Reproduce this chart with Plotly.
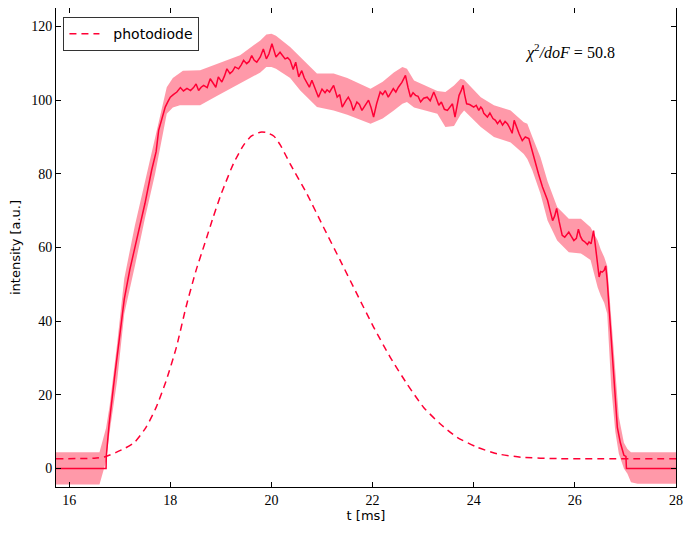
import plotly.graph_objects as go

# ---- data ----
line_t = [15.74, 16.73, 16.735, 16.79, 16.9, 17.05, 17.09, 17.2, 17.35, 17.5, 17.63, 17.72, 17.77, 17.84,
          17.9, 17.95, 18.0, 18.06, 18.13, 18.2, 18.26, 18.33, 18.4, 18.46, 18.51, 18.56, 18.61, 18.66,
          18.73, 18.79, 18.86, 18.9, 18.95, 19.02, 19.07, 19.12, 19.18, 19.23, 19.28, 19.35, 19.4, 19.45,
          19.51, 19.56, 19.61, 19.66, 19.71, 19.78, 19.84, 19.9, 19.95, 20.01, 20.05, 20.09, 20.17, 20.22,
          20.27, 20.32, 20.37, 20.43, 20.48, 20.54, 20.6, 20.65, 20.7, 20.75, 20.8, 20.86, 20.93, 21.0,
          21.06, 21.1, 21.15, 21.23, 21.3, 21.35, 21.4, 21.47, 21.52, 21.57, 21.62, 21.69, 21.74, 21.79,
          21.85, 21.92, 21.97, 22.02, 22.08, 22.15, 22.2, 22.25, 22.31, 22.36, 22.41, 22.46, 22.51, 22.58,
          22.65, 22.7, 22.75, 22.8, 22.85, 22.9, 22.95, 23.01, 23.08, 23.14, 23.21, 23.26, 23.31, 23.36,
          23.42, 23.48, 23.53, 23.58, 23.63, 23.67, 23.71, 23.75, 23.79, 23.82, 23.86, 23.92, 24.0, 24.05,
          24.1, 24.14, 24.17, 24.2, 24.27, 24.32, 24.38, 24.43, 24.47, 24.52, 24.57, 24.62, 24.67, 24.71,
          24.76, 24.8, 24.85, 24.9, 24.96, 25.02, 25.09, 25.15, 25.22, 25.28, 25.36, 25.41, 25.46, 25.51,
          25.56, 25.6, 25.64, 25.69, 25.75, 25.8, 25.84, 25.88, 25.93, 25.98, 26.03, 26.07, 26.11, 26.15,
          26.2, 26.25, 26.28, 26.32, 26.37, 26.41, 26.45, 26.48, 26.51, 26.54, 26.58, 26.61, 26.64, 26.71,
          26.78, 26.84, 26.9, 26.97, 27.01, 27.02, 28.0]
line_v = [0, 0, 3.5, 12, 25, 41, 46, 54, 63, 72, 80.9, 86, 91.8, 95.5,
          98.1, 99.5, 100.8, 101.5, 102.2, 103.4, 102.5, 103.2, 102.6, 103.4, 104.4, 102.6, 103.5, 104,
          103.4, 105.8, 104.5, 103.5, 106.3, 104.9, 106.5, 108.5, 107.2, 107.8, 109, 108.5, 109.5, 110.8,
          109.9, 110.5, 112.1, 110.8, 110.3, 111.7, 113.9, 111.2, 112.5, 115.3, 113.5, 111.7, 113, 112,
          111.2, 111.5, 110.8, 108.3, 110.3, 106.3, 108, 106, 104.9, 103.5, 105.4, 103.5, 100.8, 103,
          102, 102.8, 102.2, 104, 100.8, 101.5, 98.1, 99.8, 100.8, 99.5, 97.2, 99.5, 98.8, 97.2,
          98.5, 100, 98, 95.4, 99, 102.2, 101.5, 102.6, 100.8, 102, 103.1, 102.2, 103.5, 104.8,
          106.7, 103.5, 100.8, 102, 101.3, 101, 99.5, 100.5, 100.8, 99.8, 102.2, 100.5, 98.6, 99.5,
          97.5, 97.2, 98, 99, 95.4, 98.5, 101.3, 102.5, 104, 101.5, 99, 98.8, 98.1, 98.6,
          97.2, 98.1, 97.6, 96.4, 95.4, 96.5, 95, 94.5, 93.6, 94.5, 93.2, 94.2, 93.5, 92.5,
          91, 94.5, 92.5, 90.8, 89, 90, 89.6, 86.5, 82.7, 80, 76.4, 74.5, 72.8, 70,
          67.3, 68.5, 70.6, 67, 63.3, 62.8, 63.5, 64.2, 63, 61.9, 62.5, 65, 63, 62,
          61.5, 60.8, 61.5, 61, 64.6, 60, 53.8, 52, 53.5, 53.3, 53.8, 55, 51, 36.6,
          22, 11.2, 7, 3.6, 3.3, 0, 0]

band_t = [15.74, 16.60, 16.73, 16.80, 16.95, 17.09, 17.3, 17.5, 17.7, 17.85, 17.93, 18.05, 18.19, 18.25,
          18.59, 18.92, 19.38, 19.78, 19.9, 20.0, 20.09, 20.37, 20.57, 20.9, 21.23, 21.5, 21.96, 22.2,
          22.42, 22.59, 22.68, 22.82, 23.28, 23.44, 23.61, 23.74, 23.81, 24.14, 24.4, 24.73, 24.99, 25.06,
          25.16, 25.32, 25.46, 25.65, 25.88, 26.12, 26.31, 26.45, 26.51, 26.58, 26.64, 26.72, 26.8, 26.87,
          26.97, 27.04, 27.11, 27.24, 28.0]
band_lo = [-4.3, -4.3, 2, 10, 24, 42, 55, 68, 80, 90, 96.3, 98, 98.6, 98.6,
           98.6, 101.1, 104.4, 107.5, 109, 109, 108.5, 106, 102.6, 98.1, 97.2, 96, 93.6, 95,
           97.2, 99, 99.5, 98, 96.3, 92.7, 93, 96, 97.2, 92.7, 90, 88.5, 85.4, 84,
           80.9, 74.6, 67.3, 61.9, 58.7, 58.4, 56.6, 49.2, 47, 45, 42, 22, 10, 4,
           0, -1.4, -3.7, -4.1, -4.1]
band_hi = [4.4, 4.4, 11, 17, 34, 51.6, 66, 78, 90, 99, 103.5, 106, 107.5, 108,
           108.1, 109.9, 112.2, 116.2, 117.8, 118, 117.5, 114.4, 111.7, 107.2, 107.2, 106, 103.1, 105,
           107.5, 109, 108.5, 105.3, 102.5, 102.2, 104, 105.8, 105.5, 100.8, 98.6, 97.2, 94, 93.6,
           90, 84.5, 78, 71, 67.8, 67.8, 65.5, 62, 59.5, 57.4, 55, 40, 26, 14,
           7, 5.3, 4.4, 4.4, 4.4]

pd_t = [15.74, 16.5, 16.73, 16.93, 17.1, 17.29, 17.52, 17.72, 17.92, 18.12, 18.31, 18.51, 18.68, 18.85,
        19.0, 19.1, 19.25, 19.45, 19.6, 19.78, 19.9, 20.05, 20.18, 20.37, 20.7, 21.03, 21.36, 21.69,
        22.02, 22.35, 22.68, 23.01, 23.34, 23.67, 24.07, 24.47, 24.93, 25.65, 28.0]
pd_v = [2.7, 2.8, 3.3, 4.4, 5.5, 7.1, 11.2, 16.6, 23.9, 32.9, 43.8, 53.8, 61.0, 68.3,
        74.3, 77.8, 82.8, 87.8, 90.2, 91.3, 91.2, 90.2, 87.7, 82.7, 74.6, 65.5, 56.5, 47.4,
        38.4, 30.2, 23.0, 16.6, 12.1, 8.5, 5.8, 4.0, 3.1, 2.7, 2.7]

x_ticks = [16, 18, 20, 22, 24, 26, 28]
y_ticks = [0, 20, 40, 60, 80, 100, 120]
legend_name = "\u00a0\u00a0photodiode"
chi2_text = "<i>χ</i><sup>2</sup><i>/doF</i> = 50.8"

RED = "#ff0035"
BAND = "rgba(255,0,40,0.40)"

fig = go.Figure()
fig.add_trace(go.Scatter(x=band_t, y=band_lo, mode="lines", line=dict(width=0, color=BAND),
                         showlegend=False, hoverinfo="skip"))
fig.add_trace(go.Scatter(x=band_t, y=band_hi, mode="lines", line=dict(width=0, color=BAND),
                         fill="tonexty", fillcolor=BAND, showlegend=False, hoverinfo="skip"))
fig.add_trace(go.Scatter(x=line_t, y=line_v, mode="lines", line=dict(color=RED, width=1.5),
                         showlegend=False))
fig.add_trace(go.Scatter(x=pd_t, y=pd_v, mode="lines", name=legend_name,
                         line=dict(color=RED, width=1.5, dash="7px,5px", shape="spline", smoothing=0.6)))

fig.add_annotation(x=24.98, y=113.2, xref="x", yref="y", text=chi2_text, showarrow=False,
                   xanchor="left", yanchor="middle",
                   font=dict(family="Liberation Serif", size=16, color="black"))

axis_common = dict(showline=True, linecolor="black", linewidth=1, mirror="allticks",
                   ticks="inside", ticklen=5, tickcolor="black", tickwidth=1,
                   showgrid=False, zeroline=False, automargin=False,
                   tickfont=dict(family="Liberation Serif", size=14, color="black"))

fig.update_xaxes(range=[15.74, 28.0], tickvals=x_ticks, ticktext=[str(v) for v in x_ticks],
                 title=dict(text="t [ms]", font=dict(family="DejaVu Sans", size=13, color="black"),
                            standoff=4),
                 **axis_common)
fig.update_yaxes(range=[-5, 125], tickvals=y_ticks, ticktext=[str(v) for v in y_ticks],
                 title=dict(text="intensity [a.u.]", font=dict(family="DejaVu Sans", size=13, color="black"),
                            standoff=8),
                 **axis_common)

# page body has an 8px margin, so the figure is 8px smaller and offset
fig.update_layout(
    width=683, height=525,
    margin=dict(l=48, r=15, t=0, b=46, autoexpand=False),
    paper_bgcolor="white", plot_bgcolor="white",
    legend=dict(x=0.012, y=0.981, xanchor="left", yanchor="top",
                bordercolor="#333333", borderwidth=1, bgcolor="white",
                font=dict(family="DejaVu Sans", size=14, color="black")),
)

fig.write_html("out.html")
